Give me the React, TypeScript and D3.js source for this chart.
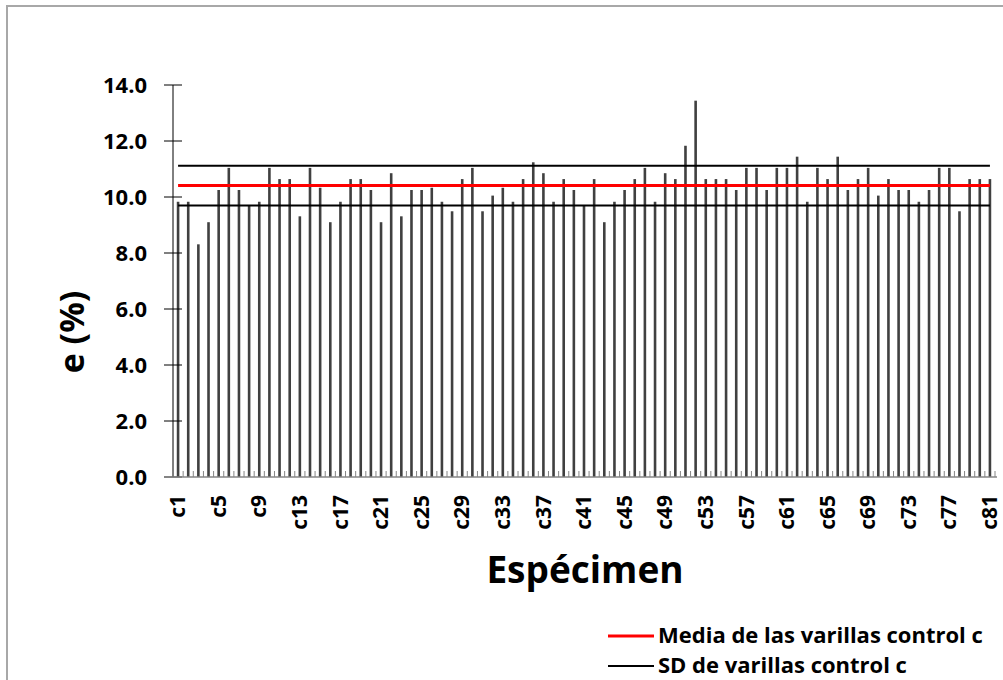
import React, { useEffect, useRef } from "react";
import * as d3 from "d3";

// elongation of each control specimen
const categories = d3.range(1, 82).map((i) => `c${i}`);
const elongation = [
  9.83, 9.83, 8.31, 9.1, 10.25, 11.04, 10.25, 9.68, 9.83, 11.04,
  10.64, 10.64, 9.31, 11.04, 10.33, 9.1, 9.83, 10.64, 10.64, 10.25,
  9.1, 10.85, 9.31, 10.25, 10.25, 10.33, 9.83, 9.49, 10.64, 11.04,
  9.49, 10.05, 10.33, 9.83, 10.64, 11.24, 10.85, 9.83, 10.64, 10.25,
  9.68, 10.64, 9.1, 9.83, 10.25, 10.64, 11.04, 9.83, 10.85, 10.64,
  11.83, 13.44, 10.64, 10.64, 10.64, 10.25, 11.04, 11.04, 10.25, 11.04,
  11.04, 11.44, 9.83, 11.04, 10.64, 11.44, 10.25, 10.64, 11.04, 10.05,
  10.64, 10.25, 10.25, 9.83, 10.25, 11.04, 11.04, 9.49, 10.64, 10.64,
  10.64,
];
const mean = 10.41;
const sd = 0.71;
const yTicks = [0, 2, 4, 6, 8, 10, 12, 14];
const legendLabels = ["Media de las varillas control c", "SD de varillas control c"];

const FONT = "'Open Sans', 'Liberation Sans', sans-serif";

const App = () => {
  const ref = useRef<SVGSVGElement>(null);

  useEffect(() => {
    const svg = d3.select(ref.current);
    svg.selectAll("*").remove();

    // frame of the chart
    svg
      .append("rect")
      .attr("x", 7)
      .attr("y", 6)
      .attr("width", 1000)
      .attr("height", 700)
      .attr("fill", "white")
      .attr("stroke", "#a8a8a8")
      .attr("stroke-width", 2);

    const x = d3.scaleBand().domain(categories).range([173, 995]).padding(0);
    const y = d3.scaleLinear().domain([0, 14]).range([477, 85]);
    const cx = (c) => x(c) + x.bandwidth() / 2;

    // bars
    svg
      .selectAll("rect.bar")
      .data(elongation)
      .enter()
      .append("rect")
      .attr("class", "bar")
      .attr("x", (d, i) => cx(categories[i]) - 1.3)
      .attr("y", (d) => y(d))
      .attr("width", 2.6)
      .attr("height", (d) => y(0) - y(d))
      .attr("fill", "#404040");

    // mean and sd lines, from first to last category centre
    const x0 = cx(categories[0]);
    const x1 = cx(categories[categories.length - 1]);
    const hLine = (v, color, w) =>
      svg
        .append("line")
        .attr("x1", x0)
        .attr("x2", x1)
        .attr("y1", y(v))
        .attr("y2", y(v))
        .attr("stroke", color)
        .attr("stroke-width", w);
    hLine(mean + sd, "#000", 2);
    hLine(mean - sd, "#000", 2);
    hLine(mean, "#ff0000", 3);

    // y axis
    svg
      .append("line")
      .attr("x1", 173)
      .attr("x2", 173)
      .attr("y1", y(14))
      .attr("y2", y(0))
      .attr("stroke", "#000")
      .attr("stroke-width", 1);
    yTicks.forEach((t) => {
      svg
        .append("line")
        .attr("x1", 164)
        .attr("x2", 182)
        .attr("y1", y(t))
        .attr("y2", y(t))
        .attr("stroke", "#000");
      svg
        .append("text")
        .attr("x", 147)
        .attr("y", y(t))
        .attr("dy", "0.36em")
        .attr("text-anchor", "end")
        .style("font-family", FONT)
        .style("font-weight", "bold")
        .style("font-size", "22px")
        .text(t.toFixed(1));
    });

    // x axis
    svg
      .append("line")
      .attr("x1", 164)
      .attr("x2", 997)
      .attr("y1", y(0))
      .attr("y2", y(0))
      .attr("stroke", "#868686")
      .attr("stroke-width", 1.5);
    categories.forEach((c, i) => {
      svg
        .append("line")
        .attr("x1", x(c) + x.bandwidth())
        .attr("x2", x(c) + x.bandwidth())
        .attr("y1", y(0))
        .attr("y2", y(0) - 6)
        .attr("stroke", "#868686");
      if (i % 4 === 0) {
        const lx = cx(c);
        svg
          .append("text")
          .attr("transform", `translate(${lx},495) rotate(-90)`)
          .attr("dy", "0.34em")
          .attr("text-anchor", "end")
          .style("font-family", FONT)
          .style("font-weight", "bold")
          .style("font-size", "21px")
          .text(c);
      }
    });

    // axis titles
    svg
      .append("text")
      .attr("transform", "translate(72,332) rotate(-90)")
      .attr("dy", "0.36em")
      .attr("text-anchor", "middle")
      .style("font-family", FONT)
      .style("font-weight", "bold")
      .style("font-size", "34px")
      .text("e (%)");
    svg
      .append("text")
      .attr("x", 585)
      .attr("y", 583)
      .attr("text-anchor", "middle")
      .style("font-family", FONT)
      .style("font-weight", "bold")
      .style("font-size", "37px")
      .text("Espécimen");

    // legend
    const legend = [
      { label: legendLabels[0], color: "#ff0000", w: 3, ly: 636 },
      { label: legendLabels[1], color: "#000", w: 2, ly: 666 },
    ];
    legend.forEach((l) => {
      svg
        .append("line")
        .attr("x1", 608)
        .attr("x2", 654)
        .attr("y1", l.ly)
        .attr("y2", l.ly)
        .attr("stroke", l.color)
        .attr("stroke-width", l.w);
      svg
        .append("text")
        .attr("x", 658)
        .attr("y", l.ly)
        .attr("dy", "0.3em")
        .style("font-family", FONT)
        .style("font-weight", "bold")
        .style("font-size", "22px")
        .text(l.label);
    });
  }, []);

  return (
    <svg
      ref={ref}
      width={1003}
      height={680}
      style={{ position: "absolute", left: 0, top: 0 }}
    />
  );
};

export default App;
